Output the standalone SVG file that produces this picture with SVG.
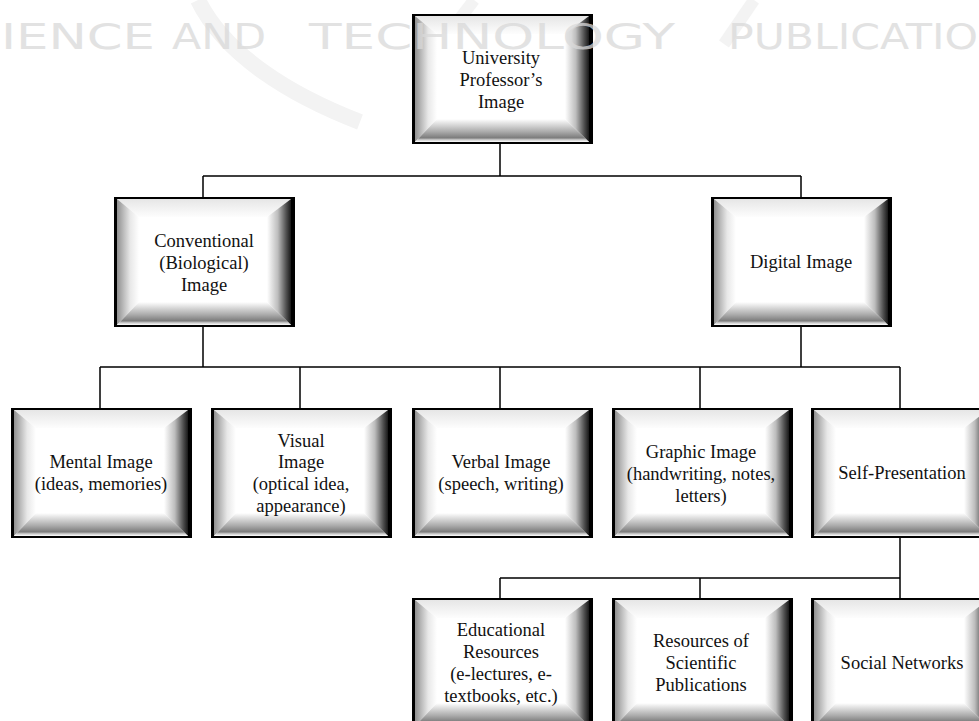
<svg xmlns="http://www.w3.org/2000/svg" xmlns:xlink="http://www.w3.org/1999/xlink" width="979" height="721" viewBox="0 0 979 721">
<style>
.lbl{font-family:"Liberation Serif","Times New Roman",serif;font-size:18.5px;fill:#111;text-anchor:middle}
.conn{fill:none;stroke:#000;stroke-width:1.5}
.wm{font-family:"DejaVu Sans",sans-serif;font-size:36px;fill:#d9d9d9}
.sw{fill:none;stroke:#f3f3f3;stroke-linecap:butt}
</style>
<defs>
<linearGradient id="gT" x1="0" y1="0" x2="0" y2="1"><stop offset="0" stop-color="#e6e6e6"/><stop offset="1" stop-color="#fdfdfd"/></linearGradient>
<linearGradient id="gL" x1="0" y1="0" x2="1" y2="0"><stop offset="0" stop-color="#909090"/><stop offset="0.6" stop-color="#e8e8e8"/><stop offset="1" stop-color="#ffffff"/></linearGradient>
<linearGradient id="gR" x1="0" y1="0" x2="1" y2="0"><stop offset="0" stop-color="#ffffff"/><stop offset="0.45" stop-color="#bdbdbd"/><stop offset="0.8" stop-color="#505050"/><stop offset="1" stop-color="#181818"/></linearGradient>
<linearGradient id="gB" x1="0" y1="0" x2="0" y2="1"><stop offset="0" stop-color="#ffffff"/><stop offset="0.55" stop-color="#ababab"/><stop offset="0.82" stop-color="#7c7c7c"/><stop offset="0.9" stop-color="#c8c8c8"/><stop offset="1" stop-color="#ffffff"/></linearGradient>
<g id="bevel">
<rect x="0" y="0" width="181" height="130" fill="#000"/>
<rect x="3" y="2" width="174" height="126" fill="#fff"/>
<polygon points="3,2 177,2 153,20 25,20" fill="url(#gT)"/>
<polygon points="3,2 25,20 25,105 3,128" fill="url(#gL)"/>
<polygon points="177,2 177,128 153,105 153,20" fill="url(#gR)"/>
<polygon points="3,128 25,105 153,105 177,128" fill="url(#gB)"/>
</g>
</defs>
<rect width="979" height="721" fill="#fff"/>
<g id="watermark-shapes">
<path class="sw" stroke-width="16" d="M198 0 C225 55 290 95 360 122"/>
<path class="sw" stroke-width="12" d="M474 0 L442 42"/>
<path class="sw" stroke-width="12" d="M754 0 L724 44"/>
</g>
<g id="connectors">
<path class="conn" d="M500 144 V176 M203 176 H801 M203 176 V197 M801 176 V197"/>
<path class="conn" d="M203 327 V367 M801 327 V367 M100 367 H900 M100 367 V408 M300 367 V408 M500 367 V408 M700 367 V408 M900 367 V408"/>
<path class="conn" d="M900 538 V578 M500 578 H900 M500 578 V598 M700 578 V598 M900 578 V598"/>
</g>
<g id="n-top"><use xlink:href="#bevel" x="412" y="14"/>
<text class="lbl" x="501" y="64">University</text><text class="lbl" x="501" y="86">Professor’s</text><text class="lbl" x="501" y="108">Image</text></g>
<g id="n-conventional"><use xlink:href="#bevel" x="114" y="197"/>
<text class="lbl" x="204" y="247">Conventional</text><text class="lbl" x="204" y="269">(Biological)</text><text class="lbl" x="204" y="291">Image</text></g>
<g id="n-digital"><use xlink:href="#bevel" x="711" y="197"/>
<text class="lbl" x="801" y="268">Digital Image</text></g>
<g id="n-mental"><use xlink:href="#bevel" x="11" y="408"/>
<text class="lbl" x="101" y="468">Mental Image</text><text class="lbl" x="101" y="490">(ideas, memories)</text></g>
<g id="n-visual"><use xlink:href="#bevel" x="211" y="408"/>
<text class="lbl" x="301" y="447">Visual</text><text class="lbl" x="301" y="468">Image</text><text class="lbl" x="301" y="490">(optical idea,</text><text class="lbl" x="301" y="512">appearance)</text></g>
<g id="n-verbal"><use xlink:href="#bevel" x="412" y="408"/>
<text class="lbl" x="501" y="468">Verbal Image</text><text class="lbl" x="501" y="490">(speech, writing)</text></g>
<g id="n-graphic"><use xlink:href="#bevel" x="612" y="408"/>
<text class="lbl" x="701" y="458">Graphic Image</text><text class="lbl" x="701" y="480">(handwriting, notes,</text><text class="lbl" x="701" y="502">letters)</text></g>
<g id="n-self"><use xlink:href="#bevel" x="811" y="408"/>
<text class="lbl" x="902" y="479">Self-Presentation</text></g>
<g id="n-educational"><use xlink:href="#bevel" x="412" y="598"/>
<text class="lbl" x="501" y="636">Educational</text><text class="lbl" x="501" y="658">Resources</text><text class="lbl" x="501" y="680">(e-lectures, e-</text><text class="lbl" x="501" y="702">textbooks, etc.)</text></g>
<g id="n-scientific"><use xlink:href="#bevel" x="612" y="598"/>
<text class="lbl" x="701" y="647">Resources of</text><text class="lbl" x="701" y="669">Scientific</text><text class="lbl" x="701" y="691">Publications</text></g>
<g id="n-social"><use xlink:href="#bevel" x="811" y="598"/>
<text class="lbl" x="902" y="669">Social Networks</text></g>
<g id="watermark" opacity="0.75">
<text class="wm" x="1" y="49" textLength="154" lengthAdjust="spacingAndGlyphs">IENCE</text>
<text class="wm" x="172" y="49" textLength="94" lengthAdjust="spacingAndGlyphs">AND</text>
<text class="wm" x="309" y="49" textLength="366" lengthAdjust="spacingAndGlyphs">TECHNOLOGY</text>
<text class="wm" x="728" y="49" textLength="250" lengthAdjust="spacingAndGlyphs">PUBLICATIO</text>
</g>
</svg>
